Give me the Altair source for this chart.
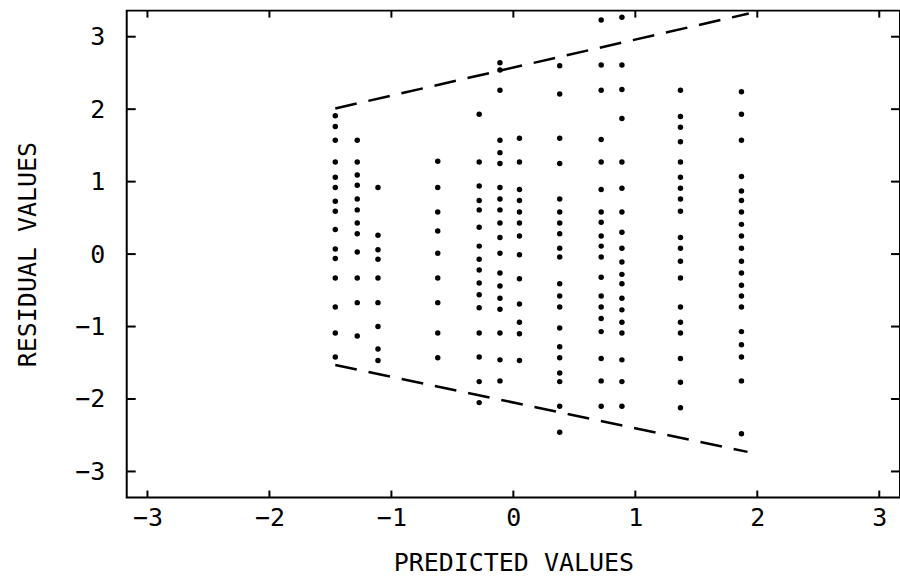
import altair as alt
import pandas as pd

# ---- data ----
pred_A = -1.46
res_A = [1.91, 1.76, 1.57, 1.27, 1.06, 0.92, 0.73, 0.59, 0.34, 0.07, -0.06, -0.33, -0.73, -1.09, -1.42]
pred_B = -1.28
res_B = [1.57, 1.27, 1.09, 0.95, 0.76, 0.61, 0.43, 0.28, 0.03, -0.33, -0.67, -1.13]
pred_C = -1.11
res_C = [0.92, 0.26, 0.06, -0.07, -0.33, -0.67, -1.00, -1.31, -1.47]
pred_D = -0.62
res_D = [1.28, 0.92, 0.58, 0.32, 0.01, -0.33, -0.67, -1.09, -1.43]
pred_E = -0.28
res_E = [1.93, 1.27, 0.94, 0.74, 0.61, 0.37, 0.11, -0.07, -0.22, -0.40, -0.56, -0.74, -1.09, -1.42, -1.76, -2.05]
pred_F = -0.11
res_F = [2.64, 2.54, 2.26, 1.57, 1.40, 1.25, 0.92, 0.76, 0.61, 0.43, 0.23, 0.01, -0.26, -0.44, -0.61, -0.76, -1.09, -1.46, -1.75]
pred_G = 0.05
res_G = [1.60, 1.27, 0.89, 0.74, 0.58, 0.43, 0.25, -0.01, -0.34, -0.69, -0.94, -1.10, -1.47]
pred_H = 0.38
res_H = [2.60, 2.21, 1.60, 1.25, 0.76, 0.58, 0.43, 0.28, 0.08, -0.04, -0.41, -0.58, -0.73, -1.02, -1.28, -1.43, -1.64, -1.76, -2.10, -2.46]
pred_I = 0.72
res_I = [3.23, 2.61, 2.26, 1.58, 1.27, 0.89, 0.58, 0.44, 0.25, 0.11, -0.04, -0.32, -0.58, -0.73, -0.89, -1.07, -1.44, -1.75, -2.10]
pred_J = 0.89
res_J = [3.27, 2.61, 2.27, 1.87, 1.27, 0.91, 0.58, 0.30, 0.08, -0.11, -0.28, -0.41, -0.61, -0.77, -0.94, -1.09, -1.46, -1.76, -2.10]
pred_K = 1.37
res_K = [2.26, 1.90, 1.75, 1.55, 1.27, 1.06, 0.91, 0.76, 0.59, 0.23, 0.08, -0.10, -0.33, -0.73, -0.94, -1.09, -1.44, -1.77, -2.12]
pred_L = 1.87
res_L = [2.24, 1.93, 1.57, 1.07, 0.87, 0.74, 0.58, 0.41, 0.25, 0.08, -0.10, -0.26, -0.43, -0.58, -0.73, -1.07, -1.25, -1.42, -1.75, -2.48]

upper_x = [-1.46, 1.93]
upper_y = [2.01, 3.32]
lower_x = [-1.46, 1.92]
lower_y = [-1.53, -2.73]

tick_values = [-3, -2, -1, 0, 1, 2, 3]

# ---- layout constants ----
XMIN, XMAX = -3.17, 3.17
YMIN, YMAX = -3.36, 3.36
W, H = 775, 488
FONT = "DejaVu Sans Mono"
XT = 7 / (H / (YMAX - YMIN))      # tick length in y units
YT = 9 / (W / (XMAX - XMIN))      # tick length in x units

cols = [(pred_A, res_A), (pred_B, res_B), (pred_C, res_C), (pred_D, res_D),
        (pred_E, res_E), (pred_F, res_F), (pred_G, res_G), (pred_H, res_H),
        (pred_I, res_I), (pred_J, res_J), (pred_K, res_K), (pred_L, res_L)]
pts = pd.DataFrame([{"pred": px, "res": r} for px, rs in cols for r in rs])

lines = pd.DataFrame(
    [{"line": "upper", "order": i, "pred": x, "res": y} for i, (x, y) in enumerate(zip(upper_x, upper_y))]
    + [{"line": "lower", "order": i, "pred": x, "res": y} for i, (x, y) in enumerate(zip(lower_x, lower_y))]
)

xs = alt.Scale(domain=[XMIN, XMAX], nice=False, zero=False)
ys = alt.Scale(domain=[YMIN, YMAX], nice=False, zero=False)

xaxis = alt.Axis(values=tick_values, tickSize=0, domain=False, grid=False,
                 labelFont=FONT, labelFontSize=25, labelColor="black", labelPadding=8,
                 titleFont=FONT, titleFontSize=25, titleFontWeight="normal", titleColor="black",
                 titlePadding=20)
yaxis = alt.Axis(values=tick_values, tickSize=0, domain=False, grid=False,
                 labelFont=FONT, labelFontSize=25, labelColor="black", labelPadding=22,
                 titleFont=FONT, titleFontSize=25, titleFontWeight="normal", titleColor="black",
                 titlePadding=34)
XTITLE = "PREDICTED VALUES"
YTITLE = "RESIDUAL VALUES"


def X(field):
    return alt.X(field, scale=xs, axis=xaxis, title=XTITLE)


def Y(field):
    return alt.Y(field, scale=ys, axis=yaxis, title=YTITLE)


points = alt.Chart(pts).mark_circle(size=30, color="black", opacity=1).encode(
    x=X("pred:Q"), y=Y("res:Q"))

bounds = alt.Chart(lines).mark_line(color="black", strokeWidth=2.5, strokeDash=[22, 12]).encode(
    x=X("pred:Q"), y=Y("res:Q"), detail="line:N", order="order:Q")

xt = pd.DataFrame({"t": tick_values})
xtick_bottom = alt.Chart(xt).transform_calculate(a=f"{YMIN}", b=f"{YMIN + XT}").mark_rule(
    color="black", strokeWidth=2).encode(x=X("t:Q"), y=Y("a:Q"), y2="b:Q")
xtick_top = alt.Chart(xt).transform_calculate(a=f"{YMAX}", b=f"{YMAX - XT}").mark_rule(
    color="black", strokeWidth=2).encode(x=X("t:Q"), y=Y("a:Q"), y2="b:Q")
ytick_left = alt.Chart(xt).transform_calculate(a=f"{XMIN}", b=f"{XMIN + YT}").mark_rule(
    color="black", strokeWidth=2).encode(y=Y("t:Q"), x=X("a:Q"), x2="b:Q")
ytick_right = alt.Chart(xt).transform_calculate(a=f"{XMAX}", b=f"{XMAX - YT}").mark_rule(
    color="black", strokeWidth=2).encode(y=Y("t:Q"), x=X("a:Q"), x2="b:Q")

chart = alt.layer(points, bounds, xtick_bottom, xtick_top, ytick_left, ytick_right).properties(
    width=W, height=H,
    autosize=alt.AutoSizeParams(type="none"),
    padding={"left": 127, "top": 10, "right": 0, "bottom": 84},
    background="white",
).configure_view(stroke="black", strokeWidth=2)

chart.save("out.html", embed_options={"renderer": "svg", "actions": False})
